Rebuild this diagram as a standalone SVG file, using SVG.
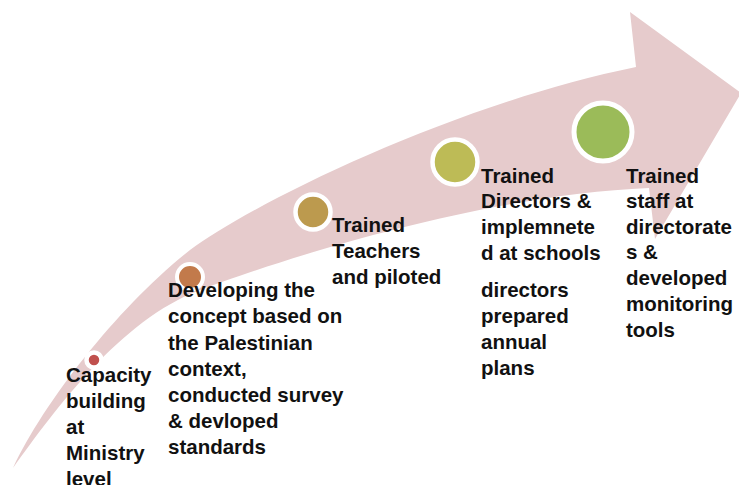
<svg xmlns="http://www.w3.org/2000/svg" width="739" height="485" viewBox="0 0 739 485">
<style>
.lbl{font-family:"Liberation Sans",Arial,sans-serif;font-weight:bold;font-size:20.5px;fill:#111111}
.ring{stroke:#ffffff}
</style>
<rect x="0" y="0" width="739" height="485" fill="#ffffff"/>
<g id="arrow">
<path d="M 13,468 C 45,400 120,305 190,250 C 250,205 450,105 636,67 L 630,12 L 741,93 L 655,239 L 649,188 C 480,195 280,260 200,290 C 120,320 55,410 13,468 Z" fill="#e6cbcc"/>
</g>
<g id="connectors"/>
<g id="node1">
<circle class="ring" cx="94" cy="360" r="7.5" fill="#c0504d" stroke-width="4.5"/>
<text class="lbl"><tspan x="66" y="382">Capacity</tspan><tspan x="66" y="408">building</tspan><tspan x="66" y="434">at</tspan><tspan x="66" y="460">Ministry</tspan><tspan x="66" y="486">level</tspan></text>
</g>
<g id="node2">
<circle class="ring" cx="190" cy="277" r="13" fill="#c27a4b" stroke-width="4"/>
<text class="lbl"><tspan x="168" y="297">Developing the</tspan><tspan x="168" y="323">concept based on</tspan><tspan x="168" y="349.5">the Palestinian</tspan><tspan x="168" y="375.5">context,</tspan><tspan x="168" y="401.5">conducted survey</tspan><tspan x="168" y="428">&amp; devloped</tspan><tspan x="168" y="454">standards</tspan></text>
</g>
<g id="node3">
<circle class="ring" cx="313" cy="212" r="17.5" fill="#bc9a4e" stroke-width="4.5"/>
<text class="lbl"><tspan x="332" y="232">Trained</tspan><tspan x="332" y="258">Teachers</tspan><tspan x="332" y="283.5">and piloted</tspan></text>
</g>
<g id="node4">
<circle class="ring" cx="455" cy="162" r="22.5" fill="#bdbb56" stroke-width="4.5"/>
<text class="lbl"><tspan x="481" y="182.5">Trained</tspan><tspan x="481" y="208">Directors &amp;</tspan><tspan x="481" y="234">implemnete</tspan><tspan x="481" y="260">d at schools</tspan><tspan x="481" y="297">directors</tspan><tspan x="481" y="323">prepared</tspan><tspan x="481" y="349">annual</tspan><tspan x="481" y="375">plans</tspan></text>
</g>
<g id="node5">
<circle class="ring" cx="603" cy="132" r="29" fill="#9bbb59" stroke-width="5"/>
<text class="lbl"><tspan x="626" y="182.5">Trained</tspan><tspan x="626" y="208">staff at</tspan><tspan x="626" y="233.5">directorate</tspan><tspan x="626" y="259">s &amp;</tspan><tspan x="626" y="285">developed</tspan><tspan x="626" y="310.5">monitoring</tspan><tspan x="626" y="336.5">tools</tspan></text>
</g>
</svg>
